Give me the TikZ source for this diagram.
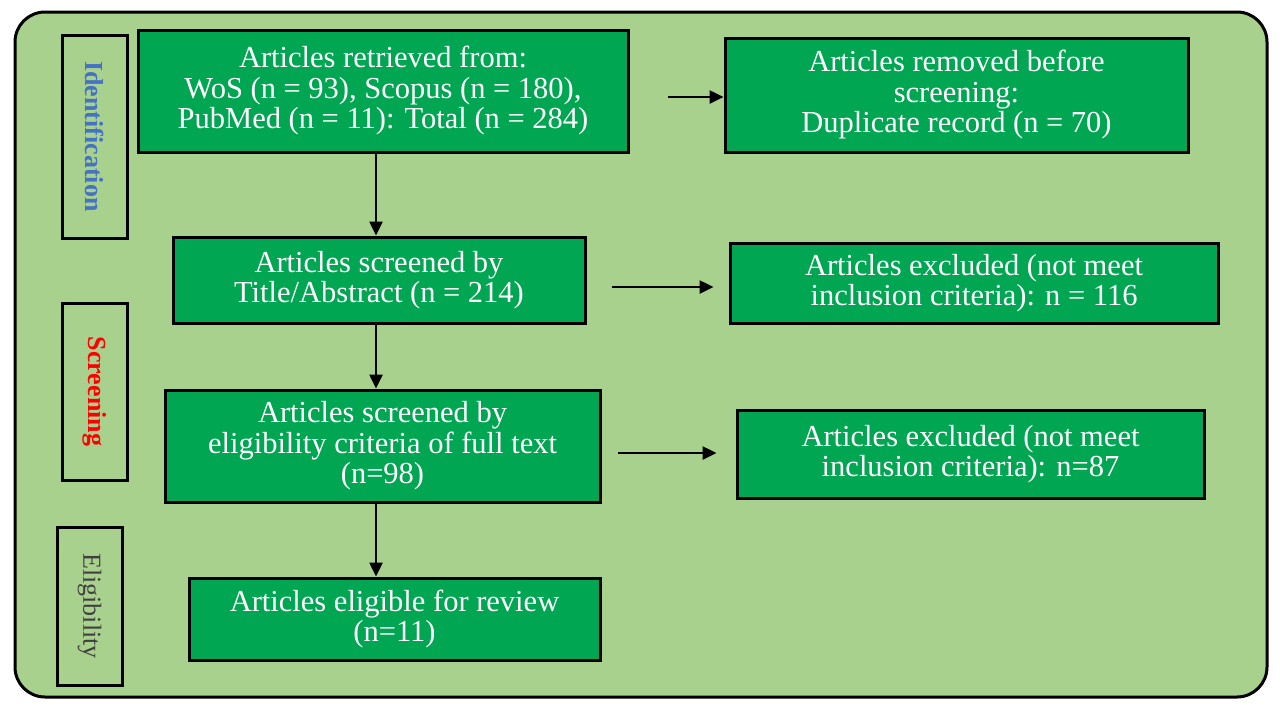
\documentclass[tikz,border=0pt]{standalone}
\usepackage{fontspec}
\setmainfont{Liberation Serif}
\usetikzlibrary{arrows.meta}
\definecolor{bg}{HTML}{A9D18E}
\definecolor{bx}{HTML}{00A651}
\definecolor{idc}{HTML}{4472C4}
\begin{document}
\begin{tikzpicture}[x=1pt,y=-1pt,
  box/.style={draw=black,line width=3pt,fill=bx,text=white,align=center,font=\fontsize{30.5}{30.5}\selectfont,inner sep=0pt},
  side/.style={draw=black,line width=3pt,fill=bg,inner sep=0pt},
  arr/.style={-{Triangle[length=14pt,width=13pt]},line width=2.5pt}]
\useasboundingbox (0,0) rectangle (1280,713);
\draw[line width=3pt,fill=bg,rounded corners=30pt] (15,12) rectangle (1267,697);
\node[box,minimum width=490,minimum height=122] (a) at (383,91) {Articles retrieved from:\\WoS (n = 93), Scopus (n = 180),\\PubMed (n = 11): Total (n = 284)};
\node[box,minimum width=463,minimum height=114] (b) at (956.5,95) {Articles removed before\\screening:\\Duplicate record (n = 70)};
\node[box,minimum width=412,minimum height=86] (c) at (379,280) {Articles screened by\\Title/Abstract (n = 214)};
\node[box,minimum width=488,minimum height=80] (d) at (974,283) {Articles excluded (not meet\\inclusion criteria): n = 116};
\node[box,minimum width=435,minimum height=112] (e) at (382.5,446) {Articles screened by\\eligibility criteria of full text\\(n=98)};
\node[box,minimum width=467,minimum height=88] (f) at (970.5,454) {Articles excluded (not meet\\inclusion criteria): n=87};
\node[box,minimum width=411,minimum height=82] (g) at (394.5,619) {Articles eligible for review\\(n=11)};
\node[side,minimum width=65,minimum height=203] (s1) at (94.5,136.5) {};
\node[rotate=-90,text=idc,font=\bfseries\fontsize{26}{28}\selectfont] (t1) at (s1) {Identification};
\node[side,minimum width=65,minimum height=177] (s2) at (94.5,391.5) {};
\node[rotate=-90,text=red,font=\bfseries\fontsize{26}{28}\selectfont] (t2) at (s2) {Screening};
\node[side,minimum width=65,minimum height=158] (s3) at (89.5,606) {};
\node[rotate=-90,text=black!75,font=\fontsize{26}{28}\selectfont] (t3) at (s3) {Eligibility};
\coordinate (h1) at (668,97);
\coordinate (h2) at (612,287);
\coordinate (h3) at (618,453);
\draw[arr] (a.south -| 376,0) -- (c.north -| 376,0);
\draw[arr] (c.south -| 376,0) -- (e.north -| 376,0);
\draw[arr] (e.south -| 376,0) -- (g.north -| 376,0);
\draw[arr] (h1) -- (b.west |- h1);
\draw[arr] (h2) -- ([xshift=-15pt]d.west |- h2);
\draw[arr] (h3) -- ([xshift=-19pt]f.west |- h3);
\end{tikzpicture}
\end{document}
